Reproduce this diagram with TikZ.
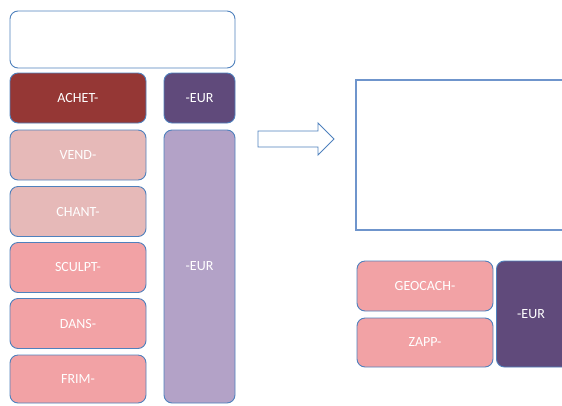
\documentclass[tikz,border=0pt]{standalone}
\usepackage{fontspec}
\setmainfont{Carlito}
\definecolor{edgeblue}{HTML}{4F81BD}
\definecolor{frameblue}{HTML}{6F95CC}
\definecolor{darkred}{HTML}{953735}
\definecolor{darkviolet}{HTML}{604A7B}
\definecolor{lightviolet}{HTML}{B3A2C7}
\definecolor{palerose}{HTML}{E6B9B8}
\definecolor{rose}{HTML}{F2A2A5}
\tikzset{
  tile/.style={draw=edgeblue, line width=0.9pt, rounded corners=8pt,
    inner sep=0pt, text=white, font=\fontsize{14}{16}\selectfont},
  stemtile/.style={tile, minimum width=136pt, minimum height=50pt},
}
\begin{document}
\begin{tikzpicture}[x=1pt,y=-1pt]
\useasboundingbox (0,0) rectangle (562,405);
% empty heading box
\node[tile, fill=white, minimum width=225pt, minimum height=57pt] (head) at (122.5,39.5) {};
% verb stems
\node[stemtile, fill=darkred] (achet) at (78,98) {ACHET-};
\node[stemtile, fill=palerose] (vend) at (78,155) {VEND-};
\node[stemtile, fill=palerose] (chant) at (78,211.5) {CHANT-};
\node[stemtile, fill=rose] (sculpt) at (78,267.5) {SCULPT-};
\node[stemtile, fill=rose] (dans) at (78,323.5) {DANS-};
\node[stemtile, fill=rose, minimum height=48pt] (frim) at (78,379) {FRIM-};
% suffix column
\node[tile, fill=darkviolet, minimum width=71pt, minimum height=50pt] (eur1) at (199.5,98) {-EUR};
\node[tile, fill=lightviolet, minimum width=71pt, minimum height=273pt] (eur2) at (199.5,266.5) {-EUR};
% block arrow
\draw[draw=edgeblue, line width=0.9pt, fill=white, line join=miter]
  (258,131) -- (318,131) -- (318,123) -- (334,139) -- (318,155) -- (318,147) -- (258,147) -- cycle;
% empty frame on the right
\draw[draw=frameblue, line width=1.4pt] (356,80) rectangle (575,230);
% new stems
\node[stemtile, fill=rose] (geocach) at (425,286) {GEOCACH-};
\node[stemtile, fill=rose, minimum height=49pt] (zapp) at (425,342.5) {ZAPP-};
\node[tile, fill=darkviolet, minimum width=80pt, minimum height=106pt, anchor=west] (eur3) at (496,314) {};
\node[text=white, font=\fontsize{14}{16}\selectfont] (eur3txt) at (531,314) {-EUR};
\end{tikzpicture}
\end{document}
